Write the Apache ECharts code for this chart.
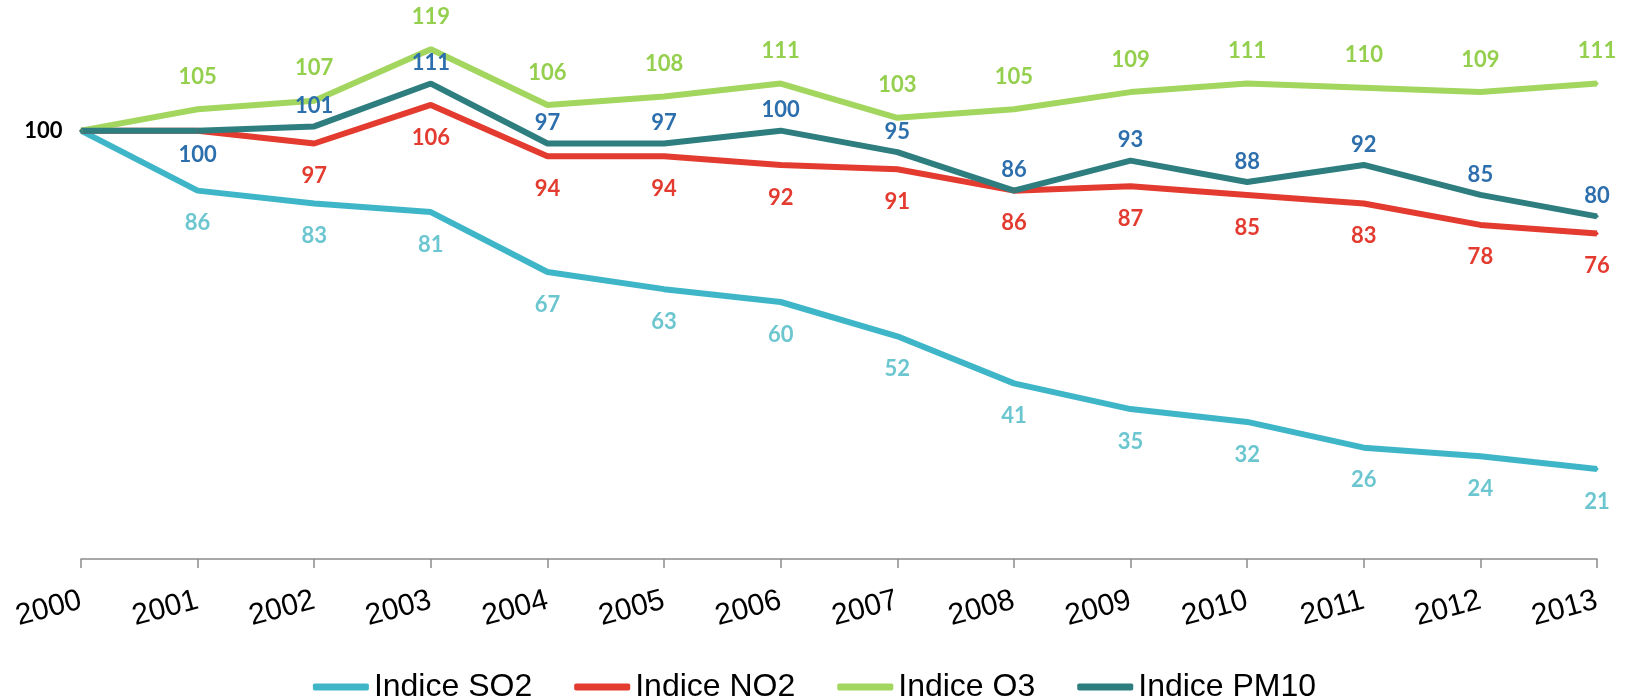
<!DOCTYPE html>
<html>
<head>
<meta charset="utf-8">
<script src="https://cdn.jsdelivr.net/npm/echarts@6/dist/echarts.min.js"></script>
<style>
    html, body { margin: 0; padding: 0; background: #fff; }
    #chart { width: 1629px; height: 700px; }
</style>
</head>
<body>
<div id="chart"></div>
<script>
// années
const years = ['2000', '2001', '2002', '2003', '2004', '2005', '2006', '2007', '2008', '2009', '2010', '2011', '2012', '2013'];
// indices (base 100 en 2000)
const so2 = [100, 86, 83, 81, 67, 63, 60, 52, 41, 35, 32, 26, 24, 21];
const no2 = [100, 100, 97, 106, 94, 94, 92, 91, 86, 87, 85, 83, 78, 76];
const o3 = [100, 105, 107, 119, 106, 108, 111, 103, 105, 109, 111, 110, 109, 111];
const pm10 = [100, 100, 101, 111, 97, 97, 100, 95, 86, 93, 88, 92, 85, 80];
const seriesNames = ['Indice SO2', 'Indice NO2', 'Indice O3', 'Indice PM10'];

const labelFont = { fontFamily: 'Lato', fontWeight: 'bold', fontSize: 22 };

// premier point sans étiquette, sauf celle du 100 à gauche
function buildData(values, extra) {
    return values.map((v, i) => {
        const item = { value: v };
        if (i === 0) item.label = { show: false };
        if (extra && extra[i]) item.label = extra[i];
        return item;
    });
}

function lineSeries(name, values, lineColor, labelColor, position, distance, extra) {
    return {
        name: name,
        type: 'line',
        data: buildData(values, extra),
        symbol: 'circle',
        symbolSize: 3,
        itemStyle: { color: lineColor },
        lineStyle: { color: lineColor, width: 6 },
        label: Object.assign({
            show: true,
            position: position,
            distance: distance,
            color: labelColor
        }, labelFont),
        emphasis: { disabled: true }
    };
}

const myChart = echarts.init(document.getElementById('chart'));

const option = {
    animation: false,
    grid: { left: 81, right: 32, top: 45, bottom: 141 },
    legend: {
        data: seriesNames,
        top: 666,
        left: 'center',
        itemWidth: 56,
        itemHeight: 7,
        itemGap: 42,
        icon: 'roundRect',
        textStyle: { fontFamily: 'Liberation Sans', fontSize: 32, color: '#000' }
    },
    xAxis: {
        type: 'category',
        data: years,
        boundaryGap: false,
        axisLine: { lineStyle: { color: '#8c8c8c', width: 1.5 } },
        axisTick: { show: true, length: 9, lineStyle: { color: '#8c8c8c', width: 1.5 } },
        axisLabel: {
            rotate: 15,
            margin: 41,
            color: '#000',
            fontFamily: 'Liberation Sans',
            fontSize: 30
        }
    },
    yAxis: {
        type: 'value',
        min: 0,
        max: 120,
        show: false,
        splitLine: { show: false }
    },
    series: [
        lineSeries(seriesNames[0], so2, '#3fb6c8', '#6cc6d0', 'bottom', 20),
        lineSeries(seriesNames[1], no2, '#e33b2f', '#e33b2f', 'bottom', 20,
            { 1: { show: false } }),
        lineSeries(seriesNames[2], o3, '#a3d65f', '#94cf4e', 'top', 20),
        lineSeries(seriesNames[3], pm10, '#2e7d7f', '#2d6fad', 'top', 8, {
            0: { show: true, position: 'left', distance: 17, color: '#000' },
            1: { show: true, position: 'bottom', distance: 12 }
        })
    ]
};

myChart.setOption(option);
window.addEventListener('resize', () => myChart.resize());
</script>
</body>
</html>
